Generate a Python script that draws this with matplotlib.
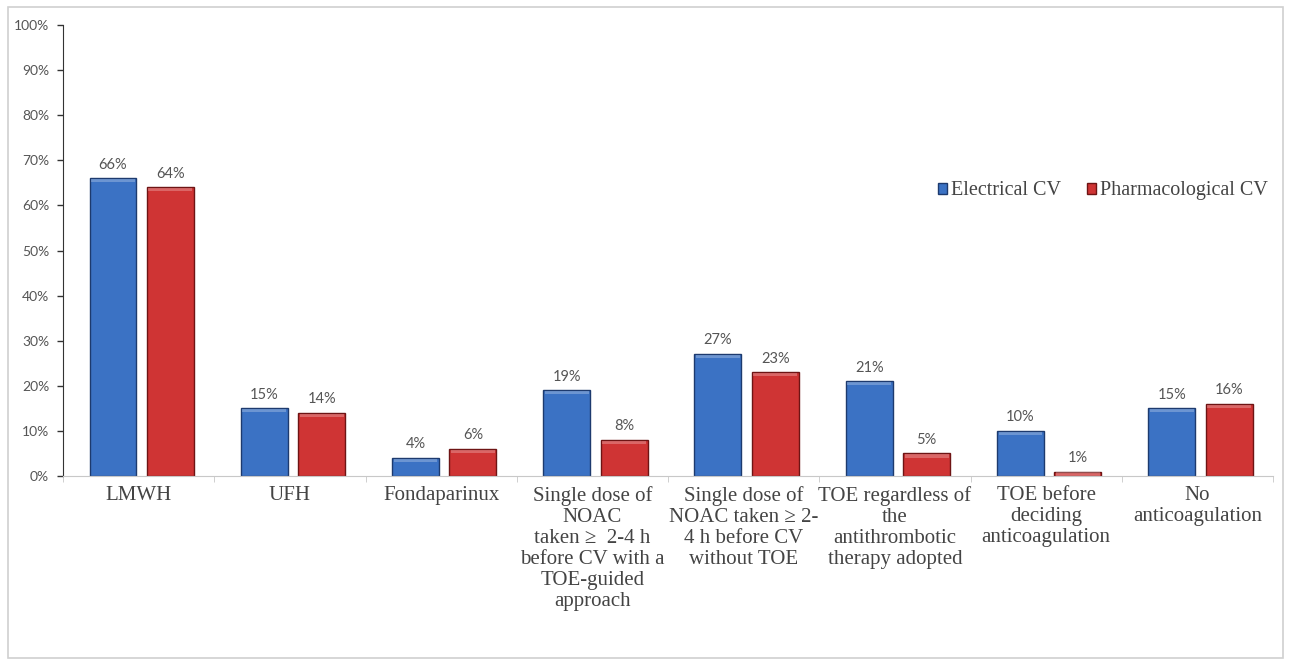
import matplotlib.pyplot as plt
import numpy as np
from matplotlib.patches import Rectangle

categories = [
    "LMWH",
    "UFH",
    "Fondaparinux",
    "Single dose of\nNOAC\ntaken \u2265  2-4 h\nbefore CV with a\nTOE-guided\napproach",
    "Single dose of\nNOAC taken \u2265 2-\n4 h before CV\nwithout TOE",
    "TOE regardless of\nthe\nantithrombotic\ntherapy adopted",
    "TOE before\ndeciding\nanticoagulation",
    "No\nanticoagulation",
]
electrical = [66, 15, 4, 19, 27, 21, 10, 15]
pharmacological = [64, 14, 6, 8, 23, 5, 1, 16]
series_names = ["Electrical CV", "Pharmacological CV"]

blue, blue_edge = "#3b72c4", "#1d3a6e"
red, red_edge = "#cf3434", "#6e1414"

fig = plt.figure(figsize=(12.89, 6.64), dpi=100)
ax = fig.add_axes([0.0489, 0.2831, 0.9387, 0.6792])

# thin grey frame round the whole figure
fig.patches.append(Rectangle((0.006, 0.009), 0.989, 0.981, transform=fig.transFigure,
                             fill=False, edgecolor="#d0d0d0", linewidth=1.2))

x = np.arange(len(categories))
w = 0.31
off = 0.19
b1 = ax.bar(x - off + 0.02, electrical, w, color=blue, edgecolor=blue_edge, linewidth=1.0,
            label=series_names[0])
b2 = ax.bar(x + off + 0.02, pharmacological, w, color=red, edgecolor=red_edge, linewidth=1.0,
            label=series_names[1])

for bars, vals in ((b1, electrical), (b2, pharmacological)):
    for rect, v in zip(bars, vals):
        # light band along the top of each bar
        ax.add_patch(Rectangle((rect.get_x() + 0.01, v - 0.9), rect.get_width() - 0.02, 0.7,
                               color="white", alpha=0.25, linewidth=0))
        ax.text(rect.get_x() + rect.get_width() / 2, v + 1.5, f"{v}%", ha="center", va="bottom",
                fontsize=10.5, color="#555555", family="Lato")

ax.set_xlim(-0.5, len(categories) - 0.5)
ax.set_ylim(0, 100)
ax.set_yticks(np.arange(0, 101, 10))
ax.set_yticklabels([f"{t}%" for t in range(0, 101, 10)], fontsize=10, color="#555555", family="Lato")
ax.tick_params(axis="y", length=4, width=1, color="#333333", pad=6)

ax.set_xticks(x)
ax.set_xticklabels(categories, fontsize=15, color="#444444", family="Liberation Serif",
                   linespacing=1.15)
ax.tick_params(axis="x", length=0, pad=7)
ax.set_xticks(np.arange(-0.5, len(categories)), minor=True)
ax.tick_params(axis="x", which="minor", length=4, color="#c8c8c8")

for s in ("top", "right"):
    ax.spines[s].set_visible(False)
ax.spines["left"].set_color("#333333")
ax.spines["bottom"].set_color("#c8c8c8")

ax.legend(loc="upper right", bbox_to_anchor=(1.006, 0.68), frameon=False, ncol=2,
          prop={"family": "Liberation Serif", "size": 14.5}, labelcolor="#444444",
          handlelength=0.45, handleheight=0.45, handletextpad=0.2, columnspacing=1.3,
          borderpad=0.1)

fig.savefig("out.png", dpi=100)
